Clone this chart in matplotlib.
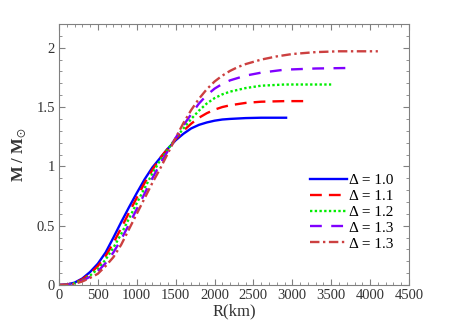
import matplotlib
matplotlib.use("Agg")
import matplotlib.pyplot as plt
from matplotlib.ticker import MultipleLocator, FuncFormatter

plt.rcParams['font.family'] = ['Liberation Serif', 'DejaVu Serif']
plt.rcParams['mathtext.fontset'] = 'stix'

# radius (km) and mass (M/Msun), one pair of lists per curve
r_10 = [0, 100, 200, 300, 400, 500, 600, 700, 800, 900, 1000, 1100, 1200, 1300, 1400,
        1500, 1600, 1700, 1800, 1900, 2000, 2100, 2200, 2400, 2600, 2920]
m_10 = [0, 0.004, 0.02, 0.055, 0.11, 0.18, 0.275, 0.40, 0.53, 0.655, 0.775, 0.89, 0.99, 1.07, 1.15,
        1.22, 1.275, 1.32, 1.35, 1.37, 1.385, 1.395, 1.40, 1.407, 1.41, 1.41]

r_11 = [0, 100, 200, 300, 400, 500, 600, 700, 800, 900, 1000, 1100, 1200, 1300, 1400,
        1500, 1600, 1700, 1800, 1900, 2000, 2100, 2200, 2400, 2600, 2900, 3200]
m_11 = [0, 0.004, 0.018, 0.048, 0.095, 0.16, 0.245, 0.355, 0.48, 0.61, 0.735, 0.86, 0.97, 1.07, 1.15,
        1.23, 1.30, 1.36, 1.41, 1.448, 1.478, 1.50, 1.515, 1.535, 1.545, 1.55, 1.55]

r_12 = [0, 100, 200, 300, 400, 500, 600, 700, 800, 900, 1000, 1100, 1200, 1300, 1400,
        1500, 1600, 1700, 1800, 1900, 2000, 2100, 2200, 2400, 2600, 2900, 3500]
m_12 = [0, 0.003, 0.015, 0.04, 0.08, 0.135, 0.215, 0.315, 0.43, 0.56, 0.69, 0.815, 0.94, 1.05, 1.145,
        1.235, 1.32, 1.40, 1.47, 1.53, 1.575, 1.607, 1.63, 1.66, 1.68, 1.69, 1.69]

r_13a = [0, 100, 200, 300, 400, 500, 600, 700, 800, 900, 1000, 1100, 1200, 1300, 1400,
         1500, 1600, 1700, 1800, 1900, 2000, 2100, 2200, 2400, 2600, 2900, 3300, 3800]
m_13a = [0, 0.002, 0.012, 0.035, 0.07, 0.115, 0.185, 0.275, 0.385, 0.51, 0.64, 0.77, 0.90, 1.02, 1.13,
         1.24, 1.345, 1.44, 1.53, 1.60, 1.655, 1.695, 1.725, 1.765, 1.79, 1.815, 1.825, 1.83]

r_13b = [0, 100, 200, 300, 400, 500, 600, 700, 800, 900, 1000, 1100, 1200, 1300, 1400,
         1500, 1600, 1700, 1800, 1900, 2000, 2100, 2200, 2300, 2400, 2600, 2800, 3000,
         3300, 3600, 4100]
m_13b = [0, 0.002, 0.01, 0.03, 0.06, 0.095, 0.16, 0.235, 0.34, 0.47, 0.60, 0.73, 0.86, 0.98, 1.11,
         1.24, 1.365, 1.475, 1.57, 1.65, 1.715, 1.765, 1.805, 1.837, 1.862, 1.9, 1.927, 1.947,
         1.963, 1.97, 1.97]

labels = ["Δ = 1.0", "Δ = 1.1", "Δ = 1.2", "Δ = 1.3", "Δ = 1.3"]

fig = plt.figure(figsize=(4.52, 3.27), dpi=100)
ax = fig.add_axes([0.1305, 0.1284, 0.7743, 0.7982])

lw = 1.7
ax.plot(r_10, m_10, color='#0000ff', lw=lw, ls='-', label=labels[0])
ax.plot(r_11, m_11, color='#ff0000', lw=lw, ls=(0, (5, 3)), label=labels[1])
ax.plot(r_12, m_12, color='#00ee00', lw=lw, ls=(0, (1, 1)), label=labels[2])
ax.plot(r_13a, m_13a, color='#8000ff', lw=lw, ls=(0, (5, 4)), label=labels[3])
ax.plot(r_13b, m_13b, color='#cc4040', lw=lw, ls=(0, (4, 1.5, 1, 1.5)), label=labels[4])

ax.set_xlim(0, 4500)
ax.set_ylim(0, 2.2)
ax.xaxis.set_major_locator(MultipleLocator(500))
ax.xaxis.set_minor_locator(MultipleLocator(100))
ax.yaxis.set_major_locator(MultipleLocator(0.5))
ax.yaxis.set_minor_locator(MultipleLocator(0.1))
ax.yaxis.set_major_formatter(FuncFormatter(lambda v, p: '%g' % v))

ax.tick_params(which='both', direction='in', top=True, right=True, colors='#808080',
               labelcolor='#333333', labelsize=10.5, pad=3)
ax.tick_params(which='major', length=4)
ax.tick_params(which='minor', length=2)
for s in ax.spines.values():
    s.set_color('#808080')

ax.set_xlabel("R(km)", fontsize=12, color='#333333', labelpad=1)
ax.set_ylabel(r"M / M$_{\odot}$", fontsize=12, color='#333333', fontweight='bold', labelpad=6)

ax.legend(loc='lower right', bbox_to_anchor=(0.985, 0.09), frameon=False, fontsize=11,
          handlelength=2.4, handletextpad=0.1, labelspacing=0.15, borderpad=0.2)

fig.savefig("out.png", dpi=100)
